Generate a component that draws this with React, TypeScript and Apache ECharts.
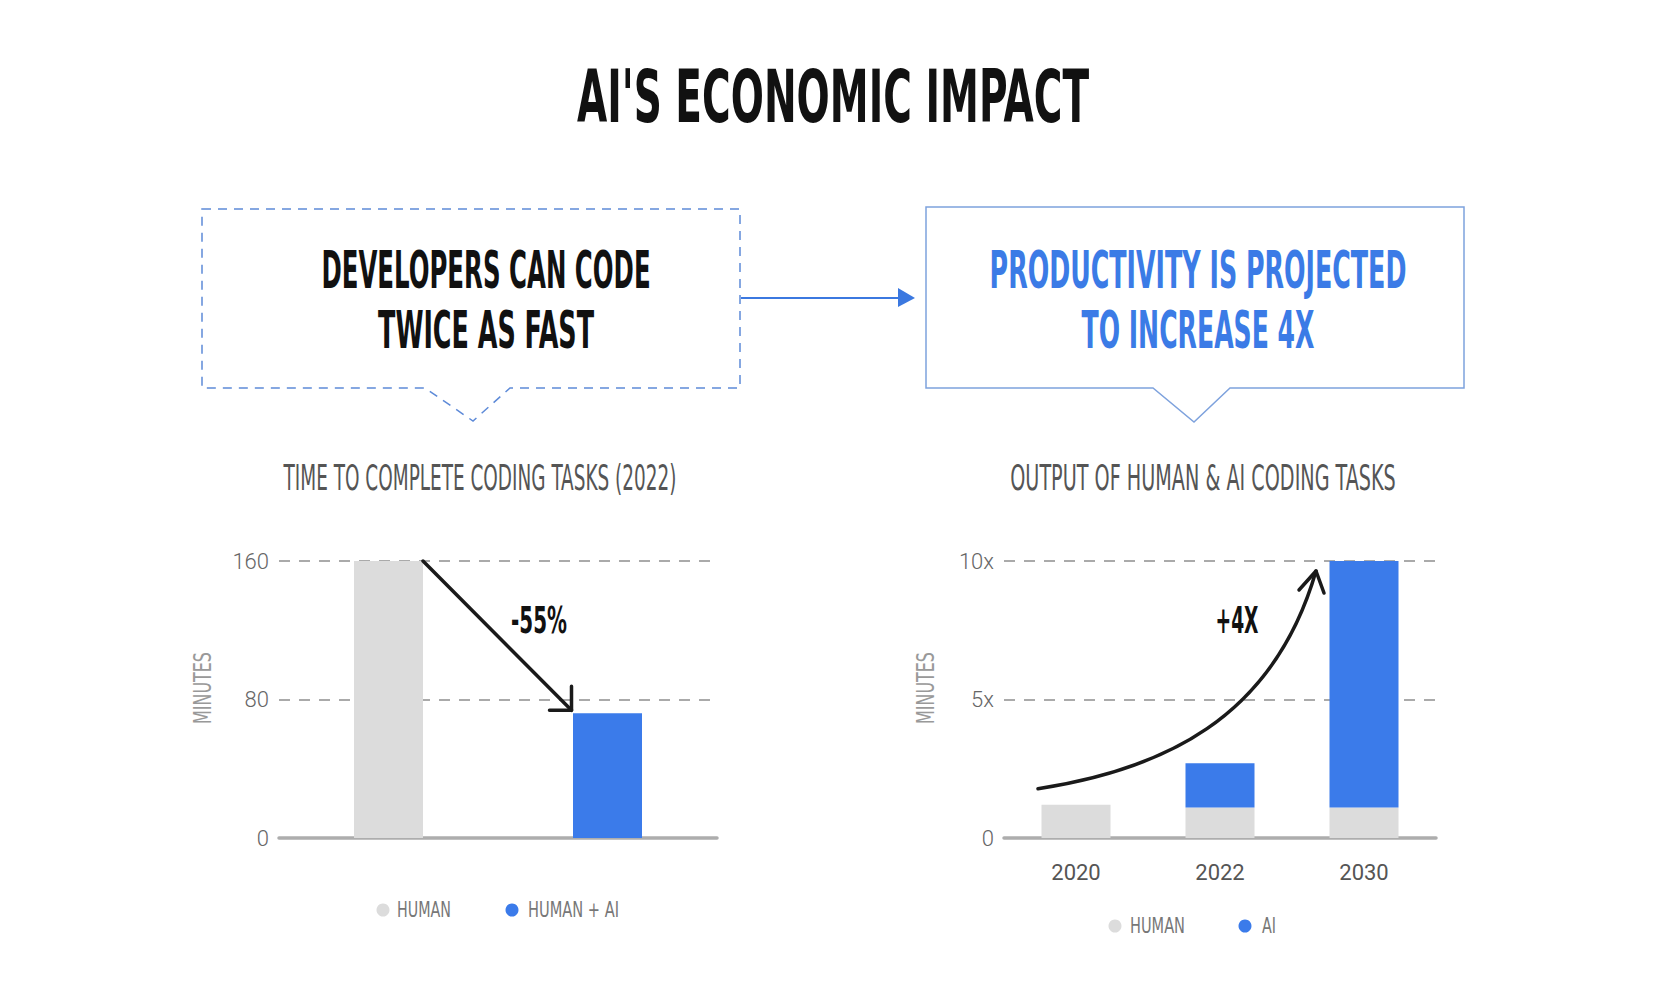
import React, { useEffect, useRef } from 'react';
import * as echarts from 'echarts';

// ---------- texts ----------
const TITLE = "AI'S ECONOMIC IMPACT";
const LEFT_NOTE = ['DEVELOPERS CAN CODE', 'TWICE AS FAST'];
const RIGHT_NOTE = ['PRODUCTIVITY IS PROJECTED', 'TO INCREASE 4X'];
const LEFT_CHART_TITLE = 'TIME TO COMPLETE CODING TASKS (2022)';
const RIGHT_CHART_TITLE = 'OUTPUT OF HUMAN & AI CODING TASKS';
const Y_NAME = 'MINUTES';

// ---------- left chart data ----------
const leftCategories = ['HUMAN', 'HUMAN + AI'];
const leftHuman: (number | string)[] = [160, '-'];
const leftHumanAI: (number | string)[] = ['-', 72];
const leftYMax = 160;
const leftYInterval = 80;
const leftChange = '-55%';
const leftLegend = ['HUMAN', 'HUMAN + AI'];

// ---------- right chart data ----------
const years = ['2020', '2022', '2030'];
const rightHuman = [1.2, 1.1, 1.1];
const rightAI = [0, 1.6, 8.9];
const rightYMax = 10;
const rightYInterval = 5;
const rightChange = '+4X';
const rightLegend = ['HUMAN', 'AI'];

const HAND = "'Liberation Sans Narrow', 'DejaVu Sans Condensed', 'Noto Sans', sans-serif";
const NUM = "Roboto, 'Noto Sans', sans-serif";
const GREY = '#dcdcdc';
const BLUE = '#3b7bea';

let measureCtx: CanvasRenderingContext2D | null = null;
function fitScale(text: string, size: number, weight: string, target: number) {
  if (!measureCtx) measureCtx = document.createElement('canvas').getContext('2d');
  if (!measureCtx) return 1;
  measureCtx.font = `${weight} ${size}px ${HAND}`;
  const w = measureCtx.measureText(text).width;
  return w > 0 ? target / w : 1;
}

function handText(
  text: string, x: number, y: number, size: number, weight: string, color: string, width: number,
  align: string = 'center', rotation: number = 0,
) {
  return {
    type: 'text',
    x,
    y,
    rotation,
    scaleX: fitScale(text, size, weight, width),
    z: 100,
    style: {
      text,
      x: 0,
      y: 0,
      fill: color,
      fontSize: size,
      fontWeight: weight,
      fontFamily: HAND,
      align,
      verticalAlign: 'middle',
      textAlign: align,
      textVerticalAlign: 'middle',
    },
  };
}

function legendItems(names: string[], colors: string[], dotX: number[], textX: number[], widths: number[], cy: number) {
  const out: any[] = [];
  names.forEach((n, i) => {
    out.push({ type: 'circle', z: 100, shape: { cx: dotX[i], cy, r: 6.5 }, style: { fill: colors[i] } });
    out.push(handText(n, textX[i], cy, 22, 'normal', '#777', widths[i], 'left'));
  });
  return out;
}

export default function App() {
  const ref = useRef<HTMLDivElement>(null);

  useEffect(() => {
    document.body.style.margin = '0';
    if (!ref.current) return;
    const chart = echarts.init(ref.current, null, { renderer: 'svg' });

    const axisLabelStyle = { color: '#666', fontSize: 22, fontFamily: NUM, fontWeight: 300, margin: 10 };
    const splitLine = { show: true, lineStyle: { type: [11, 9], color: '#aaa', width: 2 } };

    chart.setOption({
      animation: false,
      backgroundColor: '#fff',
      grid: [
        { left: 279, top: 561, width: 438, height: 277 },
        { left: 1004, top: 561, width: 432, height: 277 },
      ],
      xAxis: [
        {
          type: 'category', gridIndex: 0, data: leftCategories,
          axisLabel: { show: false }, axisTick: { show: false },
          axisLine: { lineStyle: { color: '#adadad', width: 3.5 } },
        },
        {
          type: 'category', gridIndex: 1, data: years,
          axisLabel: { color: '#555', fontSize: 22, fontFamily: NUM, margin: 23 },
          axisTick: { show: false },
          axisLine: { lineStyle: { color: '#adadad', width: 3.5 } },
        },
      ],
      yAxis: [
        {
          type: 'value', gridIndex: 0, min: 0, max: leftYMax, interval: leftYInterval,
          axisLabel: axisLabelStyle, splitLine, axisLine: { show: false }, axisTick: { show: false },
        },
        {
          type: 'value', gridIndex: 1, min: 0, max: rightYMax, interval: rightYInterval,
          axisLabel: { ...axisLabelStyle, formatter: (v: number) => (v === 0 ? '0' : `${v}x`) },
          splitLine, axisLine: { show: false }, axisTick: { show: false },
        },
      ],
      series: [
        { type: 'bar', name: 'HUMAN', xAxisIndex: 0, yAxisIndex: 0, stack: 'left', data: leftHuman, barWidth: 69, itemStyle: { color: GREY } },
        { type: 'bar', name: 'HUMAN + AI', xAxisIndex: 0, yAxisIndex: 0, stack: 'left', data: leftHumanAI, barWidth: 69, itemStyle: { color: BLUE } },
        { type: 'bar', name: 'HUMAN', xAxisIndex: 1, yAxisIndex: 1, stack: 'right', data: rightHuman, barWidth: 69, itemStyle: { color: GREY } },
        { type: 'bar', name: 'AI', xAxisIndex: 1, yAxisIndex: 1, stack: 'right', data: rightAI, barWidth: 69, itemStyle: { color: BLUE } },
      ],
    });

    // annotation positions derived from the data through the chart's scales
    const p0 = chart.convertToPixel({ gridIndex: 0 }, [0, leftHuman[0] as number]) as number[];
    const p1 = chart.convertToPixel({ gridIndex: 0 }, [1, leftHumanAI[1] as number]) as number[];
    const aStart = [p0[0] + 34.5, p0[1]];
    const aTip = [p1[0] - 36, p1[1] - 3];

    const q0 = chart.convertToPixel({ gridIndex: 1 }, [0, rightHuman[0]]) as number[];
    const q1 = chart.convertToPixel({ gridIndex: 1 }, [2, rightHuman[2] + rightAI[2]]) as number[];
    const cStart = [q0[0] - 38, q0[1] - 16];
    const cTip = [q1[0] - 48, q1[1] + 10];

    const ink = '#1a1a1a';
    chart.setOption({
      graphic: [
        handText(TITLE, 833, 96, 73, 'bold', '#111', 512),
        // left callout box
        {
          type: 'polygon', z: 50,
          shape: { points: [[202, 209], [740, 209], [740, 388], [510, 388], [473, 421], [425, 388], [202, 388]] },
          style: { fill: 'rgba(0,0,0,0)', stroke: '#5d8ad8', lineWidth: 1.5, lineDash: [9, 7] },
        },
        handText(LEFT_NOTE[0], 486, 271, 51, 'bold', '#111', 329),
        handText(LEFT_NOTE[1], 486, 331, 51, 'bold', '#111', 216),
        // connector arrow
        { type: 'line', z: 50, shape: { x1: 741, y1: 298, x2: 900, y2: 298 }, style: { stroke: '#3b78e0', lineWidth: 2 } },
        { type: 'polygon', z: 50, shape: { points: [[898, 288], [915, 298], [898, 307]] }, style: { fill: '#3b78e0' } },
        // right callout box
        {
          type: 'polygon', z: 50,
          shape: { points: [[926, 207], [1464, 207], [1464, 388], [1230, 388], [1194, 422], [1153, 388], [926, 388]] },
          style: { fill: 'rgba(0,0,0,0)', stroke: '#7ea2dd', lineWidth: 1.5 },
        },
        handText(RIGHT_NOTE[0], 1198, 271, 51, 'bold', '#3b7be6', 417),
        handText(RIGHT_NOTE[1], 1198, 331, 51, 'bold', '#3b7be6', 233),
        // chart titles
        handText(LEFT_CHART_TITLE, 480, 478, 35, 'normal', '#555', 393),
        handText(RIGHT_CHART_TITLE, 1203, 478, 35, 'normal', '#555', 386),
        // y axis names
        handText(Y_NAME, 202, 688, 25, 'normal', '#999', 72, 'center', Math.PI / 2),
        handText(Y_NAME, 925, 688, 25, 'normal', '#999', 72, 'center', Math.PI / 2),
        // legends
        ...legendItems(leftLegend, [GREY, BLUE], [383, 512], [397, 528], [54, 91], 910),
        ...legendItems(rightLegend, [GREY, BLUE], [1115, 1245], [1130, 1262], [55, 14], 926),
        // left arrow
        {
          type: 'line', z: 100,
          shape: { x1: aStart[0], y1: aStart[1], x2: aTip[0], y2: aTip[1] },
          style: { stroke: ink, lineWidth: 3.5, lineCap: 'round' },
        },
        {
          type: 'polyline', z: 100,
          shape: { points: [[aTip[0], aTip[1] - 24], [aTip[0], aTip[1]], [aTip[0] - 22, aTip[1]]] },
          style: { stroke: ink, lineWidth: 3.5, lineCap: 'round', lineJoin: 'round', fill: 'none' },
        },
        handText(leftChange, 539, 620, 38, 'bold', '#111', 56),
        // right curved arrow
        {
          type: 'bezierCurve', z: 100,
          shape: {
            x1: cStart[0], y1: cStart[1], x2: cTip[0], y2: cTip[1],
            cpx1: cStart[0] + 123, cpy1: cStart[1] - 19, cpx2: cTip[0] - 43, cpy2: cTip[1] + 149,
          },
          style: { stroke: ink, lineWidth: 3.5, lineCap: 'round', fill: 'none' },
        },
        {
          type: 'polyline', z: 100,
          shape: { points: [[cTip[0] - 17, cTip[1] + 19], [cTip[0], cTip[1]], [cTip[0] + 8, cTip[1] + 22]] },
          style: { stroke: ink, lineWidth: 3.5, lineCap: 'round', lineJoin: 'round', fill: 'none' },
        },
        handText(rightChange, 1237, 620, 38, 'bold', '#111', 43),
      ],
    });

    return () => chart.dispose();
  }, []);

  return <div ref={ref} style={{ width: 1667, height: 990 }} />;
}
